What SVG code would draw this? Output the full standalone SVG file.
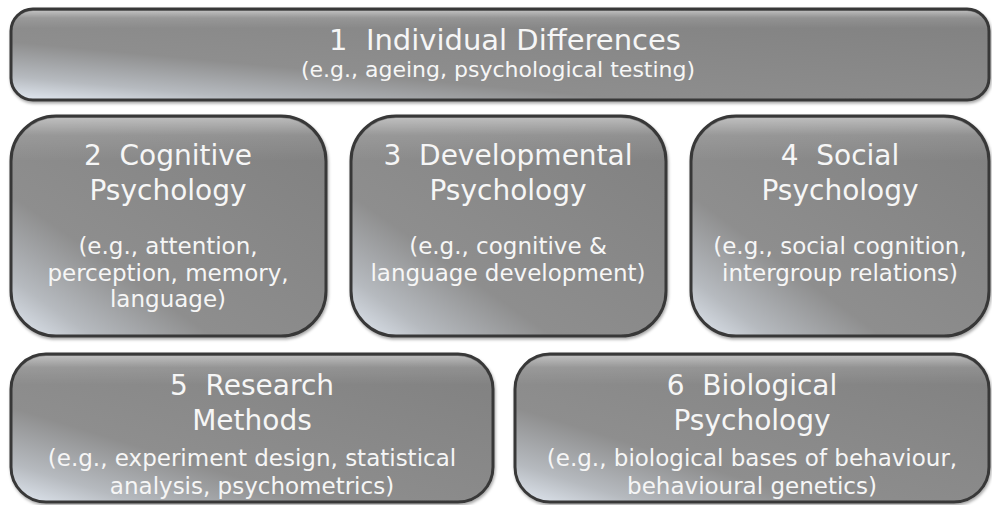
<svg xmlns="http://www.w3.org/2000/svg" width="992" height="505" viewBox="0 0 992 505">
<defs>
<linearGradient id="fill" x1="0" y1="1" x2="1" y2="0">
<stop offset="0" stop-color="#e2e9f2"/>
<stop offset="0.13" stop-color="#b6babf"/>
<stop offset="0.32" stop-color="#8e8e8e"/>
<stop offset="1" stop-color="#808080"/>
</linearGradient>
<linearGradient id="hl" x1="0" y1="0" x2="0" y2="1">
<stop offset="0" stop-color="#ffffff" stop-opacity="0.45"/>
<stop offset="0.08" stop-color="#ffffff" stop-opacity="0.12"/>
<stop offset="0.2" stop-color="#ffffff" stop-opacity="0"/>
</linearGradient>
<filter id="sh" x="-5%" y="-5%" width="110%" height="115%">
<feDropShadow dx="1" dy="2" stdDeviation="1.5" flood-color="#000" flood-opacity="0.35"/>
</filter>
</defs>
<style>
.box{fill:url(#fill);stroke:#383838;stroke-width:3;filter:url(#sh)}
.hl{fill:url(#hl);stroke:none}
.t{font-family:"DejaVu Sans",Verdana,sans-serif;fill:#f6f6f6;text-anchor:middle;white-space:pre}
.h{font-size:28px}
.h1{font-size:29px}
.s{font-size:23px}
.s1{font-size:22px}
</style>
<g id="node1">
<rect class="box" x="11" y="9" width="978" height="91" rx="22"/>
<rect class="hl" x="13" y="11" width="974" height="87" rx="20"/>
<text class="t h1" x="505" y="50">1  Individual Differences</text>
<text class="t s1" x="498" y="77">(e.g., ageing, psychological testing)</text>
</g>
<g id="node2">
<rect class="box" x="11" y="116" width="315" height="220" rx="45"/>
<rect class="hl" x="13" y="118" width="311" height="216" rx="43"/>
<text class="t h" x="168" y="165">2  Cognitive</text>
<text class="t h" x="168" y="200">Psychology</text>
<text class="t s" x="168" y="254">(e.g., attention,</text>
<text class="t s" x="168" y="281">perception, memory,</text>
<text class="t s" x="168" y="307">language)</text>
</g>
<g id="node3">
<rect class="box" x="351" y="116" width="315" height="220" rx="45"/>
<rect class="hl" x="353" y="118" width="311" height="216" rx="43"/>
<text class="t h" x="508" y="165">3  Developmental</text>
<text class="t h" x="508" y="200">Psychology</text>
<text class="t s" x="508" y="254">(e.g., cognitive &amp;</text>
<text class="t s" x="508" y="281">language development)</text>
</g>
<g id="node4">
<rect class="box" x="691" y="116" width="298" height="220" rx="45"/>
<rect class="hl" x="693" y="118" width="294" height="216" rx="43"/>
<text class="t h" x="840" y="165">4  Social</text>
<text class="t h" x="840" y="200">Psychology</text>
<text class="t s" x="840" y="254">(e.g., social cognition,</text>
<text class="t s" x="840" y="281">intergroup relations)</text>
</g>
<g id="node5">
<rect class="box" x="11" y="354" width="482" height="148" rx="35"/>
<rect class="hl" x="13" y="356" width="478" height="144" rx="33"/>
<text class="t h" x="252" y="395">5  Research</text>
<text class="t h" x="252" y="430">Methods</text>
<text class="t s" x="252" y="466">(e.g., experiment design, statistical</text>
<text class="t s" x="252" y="494">analysis, psychometrics)</text>
</g>
<g id="node6">
<rect class="box" x="515" y="354" width="474" height="148" rx="35"/>
<rect class="hl" x="517" y="356" width="470" height="144" rx="33"/>
<text class="t h" x="752" y="395">6  Biological</text>
<text class="t h" x="752" y="430">Psychology</text>
<text class="t s" x="752" y="466">(e.g., biological bases of behaviour,</text>
<text class="t s" x="752" y="494">behavioural genetics)</text>
</g>
<g id="connectors"/>
</svg>
